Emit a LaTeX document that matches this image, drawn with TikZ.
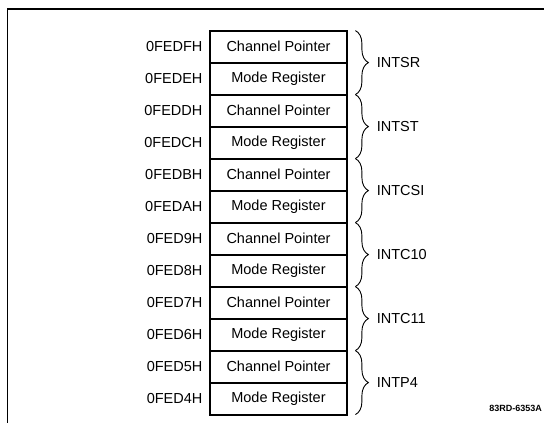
\documentclass[tikz,border=0pt]{standalone}
\usepackage{fontspec}
\setmainfont{Liberation Sans}
\usetikzlibrary{positioning, decorations.pathreplacing, calc}

\begin{document}
\begin{tikzpicture}[
        x=1pt, y=1pt,
        cell/.style={draw, line width=0.8pt, minimum width=137pt, minimum height=31.2pt, inner sep=0pt, font=\fontsize{14.5}{16}\selectfont},
        addr/.style={font=\fontsize{14.5}{16}\selectfont, inner sep=0pt},
        grpbrace/.style={decorate, decoration={brace, amplitude=13pt}, line width=0.9pt},
        grplabel/.style={right, xshift=21pt, font=\fontsize{14.5}{16}\selectfont, inner sep=0pt},
        outline/.style={line width=2pt},
        frame/.style={line width=1.6pt}
    ]
        \useasboundingbox (0,0) rectangle (544,423);

        % register cells
        \node[cell] (r1) at (278.5,376.4) {Channel Pointer};
        \node[cell, below=0pt of r1] (r2) {Mode Register};
        \node[cell, below=0pt of r2] (r3) {Channel Pointer};
        \node[cell, below=0pt of r3] (r4) {Mode Register};
        \node[cell, below=0pt of r4] (r5) {Channel Pointer};
        \node[cell, below=0pt of r5] (r6) {Mode Register};
        \node[cell, below=0pt of r6] (r7) {Channel Pointer};
        \node[cell, below=0pt of r7] (r8) {Mode Register};
        \node[cell, below=0pt of r8] (r9) {Channel Pointer};
        \node[cell, below=0pt of r9] (r10) {Mode Register};
        \node[cell, below=0pt of r10] (r11) {Channel Pointer};
        \node[cell, below=0pt of r11] (r12) {Mode Register};
        \draw[outline] (r1.north west) rectangle (r12.south east);

        % addresses
        \node[addr, left=7pt of r1] (aFH) {0FEDFH};
        \node[addr, left=7pt of r2] (aEH) {0FEDEH};
        \node[addr, left=7pt of r3] (aDH) {0FEDDH};
        \node[addr, left=7pt of r4] (aCH) {0FEDCH};
        \node[addr, left=7pt of r5] (aBH) {0FEDBH};
        \node[addr, left=7pt of r6] (aAH) {0FEDAH};
        \node[addr, left=7pt of r7] (a9H) {0FED9H};
        \node[addr, left=7pt of r8] (a8H) {0FED8H};
        \node[addr, left=7pt of r9] (a7H) {0FED7H};
        \node[addr, left=7pt of r10] (a6H) {0FED6H};
        \node[addr, left=7pt of r11] (a5H) {0FED5H};
        \node[addr, left=7pt of r12] (a4H) {0FED4H};

        % interrupt groups
        \draw[grpbrace] ([xshift=8pt]r1.north east) -- node[grplabel] (intsr) {INTSR} ([xshift=8pt]r2.south east);
        \draw[grpbrace] ([xshift=8pt]r3.north east) -- node[grplabel] (intst) {INTST} ([xshift=8pt]r4.south east);
        \draw[grpbrace] ([xshift=8pt]r5.north east) -- node[grplabel] (intcsi) {INTCSI} ([xshift=8pt]r6.south east);
        \draw[grpbrace] ([xshift=8pt]r7.north east) -- node[grplabel] (intc10) {INTC10} ([xshift=8pt]r8.south east);
        \draw[grpbrace] ([xshift=8pt]r9.north east) -- node[grplabel] (intc11) {INTC11} ([xshift=8pt]r10.south east);
        \draw[grpbrace] ([xshift=8pt]r11.north east) -- node[grplabel] (intp4) {INTP4} ([xshift=8pt]r12.south east);

        % frame and figure number
        \coordinate (fcorner) at (7.5,414);
        \draw[frame] (fcorner |- 0,0) -- (fcorner) -- (544,414);
        \node[anchor=east, font=\fontsize{9}{10}\selectfont\bfseries, inner sep=0pt] (fignum) at (542,15) {83RD-6353A};
    \end{tikzpicture}
\end{document}
